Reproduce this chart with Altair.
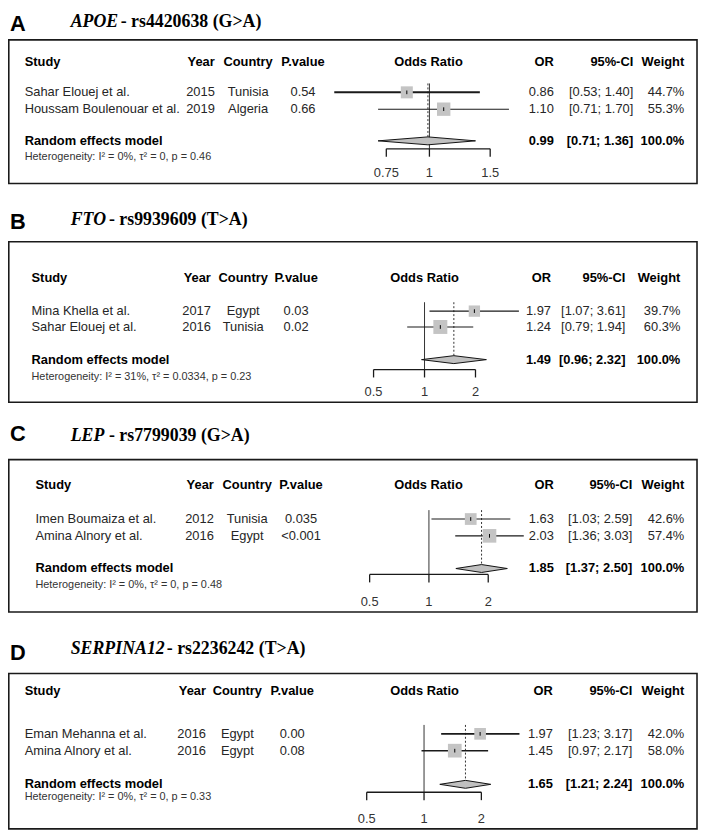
import altair as alt
import pandas as pd

# ---------------- data ----------------
letters = ["A", "B", "C", "D"]
genes = ["APOE", "FTO", "LEP", "SERPINA12"]
snps = ["- rs4420638 (G>A)", "- rs9939609 (T>A)", "- rs7799039 (G>A)", "- rs2236242 (T>A)"]

studies = [["Sahar Elouej et al.", "Houssam Boulenouar et al."],
           ["Mina Khella et al.", "Sahar Elouej et al."],
           ["Imen Boumaiza et al.", "Amina Alnory et al."],
           ["Eman Mehanna et al.", "Amina Alnory et al."]]
years = [["2015", "2019"], ["2017", "2016"], ["2012", "2016"], ["2016", "2016"]]
countries = [["Tunisia", "Algeria"], ["Egypt", "Tunisia"], ["Tunisia", "Egypt"], ["Egypt", "Egypt"]]
pvalues = [["0.54", "0.66"], ["0.03", "0.02"], ["0.035", "<0.001"], ["0.00", "0.08"]]
odds = [[0.86, 1.10], [1.97, 1.24], [1.63, 2.03], [1.97, 1.45]]
ci_low = [[0.53, 0.71], [1.07, 0.79], [1.03, 1.36], [1.23, 0.97]]
ci_high = [[1.40, 1.70], [3.61, 1.94], [2.59, 3.03], [3.17, 2.17]]
weights = [[44.7, 55.3], [39.7, 60.3], [42.6, 57.4], [42.0, 58.0]]
re_or = [0.99, 1.49, 1.85, 1.65]
re_low = [0.71, 0.96, 1.37, 1.21]
re_high = [1.36, 2.32, 2.50, 2.24]
i2 = ["0%", "31%", "0%", "0%"]
tau2 = ["0", "0.0334", "0", "0"]
het_p = ["0.46", "0.23", "0.48", "0.33"]
axis_ticks = [[0.75, 1, 1.5], [0.5, 1, 2], [0.5, 1, 2], [0.5, 1, 2]]
axis_labels = [["0.75", "1", "1.5"], ["0.5", "1", "2"], ["0.5", "1", "2"], ["0.5", "1", "2"]]

# ---------------- layout (reference pixel coords) ----------------
SANS = "Liberation Sans"
SERIF = "Liberation Serif"
TXT = "#262626"
W = 697
ONE = pd.DataFrame({"k": [0]})


def X(r):
    return (r - 1) * 0.99


layout = [
    dict(top=4, h=200, letter=16, title=14, rest_x=116, box=(32, 177), header=54, rows=(85, 102),
         re=134, het=150, axis=142, labels=167, vtop=76, ax=(387, 493), ci_w=(2.0, 1.1),
         study=18, year=212, country=246, pval=302, oddsc=430, orr=558, ci=639, wt=691),
    dict(top=208, h=218, letter=220, title=218, rest_x=104, box=(240, 402), header=277, rows=(310, 326),
         re=359, het=377, axis=369, labels=392, vtop=301, ax=(374, 478), ci_w=(1.1, 1.1),
         study=25, year=208, country=241, pval=295, oddsc=426, orr=555, ci=631, wt=687),
    dict(top=426, h=222, letter=434, title=436, rest_x=104, box=(460, 614), header=486, rows=(520, 537),
         re=570, het=587, axis=576, labels=604, vtop=511, ax=(370, 491), ci_w=(1.1, 1.1),
         study=29, year=211, country=245, pval=300, oddsc=430, orr=558, ci=638, wt=691),
    dict(top=648, h=189, letter=655, title=651, rest_x=163, box=(676, 833), header=694, rows=(737, 754),
         re=788, het=801, axis=796, labels=823, vtop=728, ax=(367, 484), ci_w=(1.8, 1.6),
         study=18, year=203, country=235, pval=291, oddsc=426, orr=557, ci=638, wt=691),
]


def label(text, x, y, align="left", size=13, weight="normal", font=SANS, style="normal", color="#000000"):
    return alt.Chart(ONE).mark_text(
        text=text, align=align, baseline="middle", fontSize=size, fontWeight=weight,
        font=font, fontStyle=style, color=color
    ).encode(x=alt.value(x), y=alt.value(y))


def panel(i):
    L = layout[i]
    top = L["top"]
    h = L["h"]

    def ly(r):
        return r - top

    ysc = alt.Scale(domain=[0, h], range=[0, h], nice=False, zero=False)
    t = axis_ticks[i]
    xsc = alt.Scale(type="log", domain=[t[0], t[-1]], range=[X(L["ax"][0]), X(L["ax"][1])], nice=False)

    df = pd.DataFrame({
        "study": studies[i], "year": years[i], "country": countries[i], "pval": pvalues[i],
        "or": odds[i], "lo": ci_low[i], "hi": ci_high[i], "w": weights[i],
        "yy": [ly(r) for r in L["rows"]],
    })
    df["or_s"] = df["or"].map(lambda v: f"{v:.2f}")
    df["ci_s"] = [f"[{a:.2f}; {b:.2f}]" for a, b in zip(df["lo"], df["hi"])]
    df["w_s"] = df["w"].map(lambda v: f"{v:.1f}%")
    df["lw"] = list(L["ci_w"])

    Y = alt.Y("yy:Q", scale=ysc, axis=None)

    def col(field, x, align):
        return alt.Chart(df).mark_text(
            align=align, baseline="middle", font=SANS, fontSize=13, color=TXT
        ).encode(x=alt.value(x), y=Y, text=f"{field}:N")

    layers = []
    # frame
    layers.append(alt.Chart(ONE).mark_rect(fill="white", fillOpacity=0, stroke="#1a1a1a", strokeWidth=1.6).encode(
        x=alt.value(0.8), x2=alt.value(W - 1), y=alt.value(ly(L["box"][0])), y2=alt.value(ly(L["box"][1]))))
    # titles
    layers.append(label(letters[i], X(3), ly(L["letter"]), size=22, weight="bold"))
    layers.append(label(genes[i], X(65), ly(L["title"]), size=18, weight="bold", font=SERIF, style="italic"))
    layers.append(label(snps[i], X(L["rest_x"]), ly(L["title"]), size=18, weight="bold", font=SERIF))
    # headers
    hy = ly(L["header"])
    layers.append(label("Study", X(L["study"]), hy, weight="bold"))
    layers.append(label("Year", X(L["year"]), hy, align="right", weight="bold"))
    layers.append(label("Country", X(L["country"]), hy, align="center", weight="bold"))
    layers.append(label("P.value", X(L["pval"]), hy, align="center", weight="bold"))
    layers.append(label("Odds Ratio", X(L["oddsc"]), hy, align="center", weight="bold"))
    layers.append(label("OR", X(L["orr"]), hy, align="right", weight="bold"))
    layers.append(label("95%-CI", X(L["ci"]), hy, align="right", weight="bold"))
    layers.append(label("Weight", X(L["wt"]), hy, align="right", weight="bold"))
    # study rows
    layers.append(col("study", X(L["study"]), "left"))
    layers.append(col("year", X(L["year"]), "right"))
    layers.append(col("country", X(L["country"]), "center"))
    layers.append(col("pval", X(L["pval"]), "center"))
    layers.append(col("or_s", X(L["orr"]), "right"))
    layers.append(col("ci_s", X(L["ci"]), "right"))
    layers.append(col("w_s", X(L["wt"]), "right"))
    # random effects row
    ry = ly(L["re"])
    layers.append(label("Random effects model", X(L["study"]), ry, weight="bold"))
    layers.append(label(f"{re_or[i]:.2f}", X(L["orr"]), ry, align="right", weight="bold"))
    layers.append(label(f"[{re_low[i]:.2f}; {re_high[i]:.2f}]", X(L["ci"]), ry, align="right", weight="bold"))
    layers.append(label("100.0%", X(L["wt"]), ry, align="right", weight="bold"))
    layers.append(label(f"Heterogeneity: I² = {i2[i]}, τ² = {tau2[i]}, p = {het_p[i]}",
                        X(L["study"]), ly(L["het"]), size=11, color="#333333"))

    # reference lines
    vl = pd.DataFrame({"v": [1.0], "y1": [ly(L["vtop"])], "y2": [ly(L["axis"])]})
    layers.append(alt.Chart(vl).mark_rule(color="#333333", strokeWidth=1).encode(
        x=alt.X("v:Q", scale=xsc, axis=None), y=alt.Y("y1:Q", scale=ysc, axis=None), y2="y2:Q"))
    dl = pd.DataFrame({"v": [re_or[i]], "y1": [ly(L["vtop"])], "y2": [ly(L["re"])]})
    layers.append(alt.Chart(dl).mark_rule(color="#333333", strokeWidth=1, strokeDash=[2, 2]).encode(
        x=alt.X("v:Q", scale=xsc, axis=None), y=alt.Y("y1:Q", scale=ysc, axis=None), y2="y2:Q"))

    # confidence intervals, squares, centre ticks
    layers.append(alt.Chart(df).mark_rule(color="#1a1a1a").encode(
        x=alt.X("lo:Q", scale=xsc, axis=None), x2="hi:Q", y=Y,
        strokeWidth=alt.StrokeWidth("lw:Q", scale=None)))
    layers.append(alt.Chart(df).mark_square(fill="#c4c4c4", opacity=1, strokeWidth=0).encode(
        x=alt.X("or:Q", scale=xsc, axis=None), y=Y,
        size=alt.Size("w:Q", scale=alt.Scale(domain=[0, 100], range=[0, 330]), legend=None)))
    layers.append(alt.Chart(df).mark_point(shape="M0,-1L0,1", size=14, stroke="#000000", strokeWidth=1,
                                           filled=False, opacity=1).encode(
        x=alt.X("or:Q", scale=xsc, axis=None), y=Y))

    # diamond for pooled estimate
    yc = ly(L["re"])
    dm = pd.DataFrame({"dx": [re_low[i], re_or[i], re_high[i]],
                       "dy": [yc, yc - 4, yc], "dy2": [yc, yc + 4, yc]})
    layers.append(alt.Chart(dm).mark_area(orient="vertical", fill="#c0c0c0", stroke="#111111",
                                          strokeWidth=1, opacity=1).encode(
        x=alt.X("dx:Q", scale=xsc, axis=None), y=alt.Y("dy:Q", scale=ysc, axis=None), y2="dy2:Q"))

    # x axis (bracket, ticks, labels)
    ay = ly(L["axis"])
    br = pd.DataFrame({"a": [t[0]], "b": [t[-1]], "y": [ay]})
    layers.append(alt.Chart(br).mark_rule(color="#1a1a1a", strokeWidth=1.3).encode(
        x=alt.X("a:Q", scale=xsc, axis=None), x2="b:Q", y=alt.Y("y:Q", scale=ysc, axis=None)))
    tk = pd.DataFrame({"t": t, "y1": [ay] * len(t), "y2": [ay + 8] * len(t), "lab": axis_labels[i],
                       "yl": [ly(L["labels"])] * len(t)})
    layers.append(alt.Chart(tk).mark_rule(color="#1a1a1a", strokeWidth=1.3).encode(
        x=alt.X("t:Q", scale=xsc, axis=None), y=alt.Y("y1:Q", scale=ysc, axis=None), y2="y2:Q"))
    layers.append(alt.Chart(tk).mark_text(font=SANS, fontSize=13, color="#333333", baseline="middle").encode(
        x=alt.X("t:Q", scale=xsc, axis=None), y=alt.Y("yl:Q", scale=ysc, axis=None), text="lab:N"))

    return alt.layer(*layers).properties(width=W, height=h)


chart = alt.vconcat(*[panel(i) for i in range(4)], spacing=0, bounds="flush").resolve_scale(
    x="independent", y="independent", size="independent"
).properties(padding=0).configure_view(stroke=None)

chart.save("out.html", embed_options={"renderer": "svg", "actions": False})
